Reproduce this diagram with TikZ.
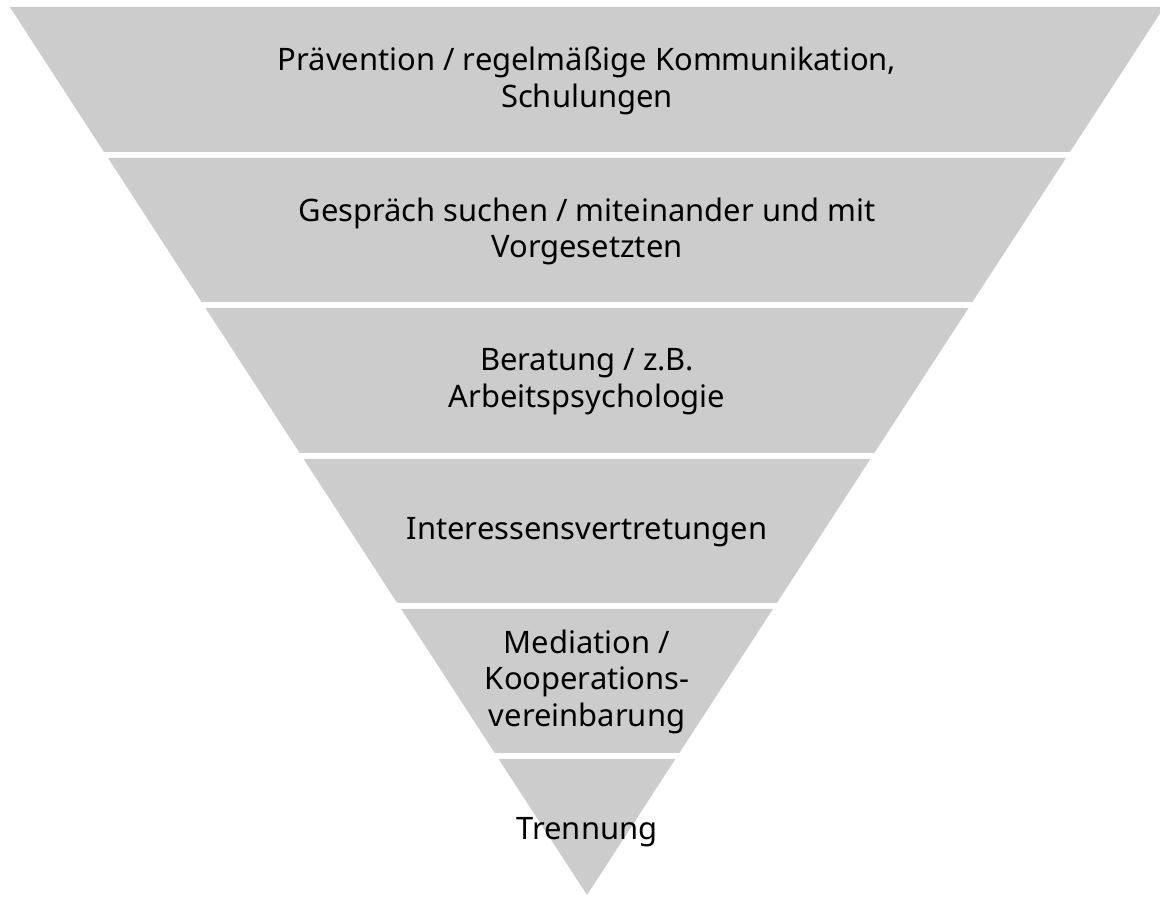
\documentclass[tikz,border=0pt]{standalone}
\usepackage{fontspec}
\setmainfont{Noto Sans}
\usepackage{tikz}
\usepackage{xcolor}

\tikzset{
  band/.style={fill=black!20},
  bandlabel/.style={align=center, inner sep=0pt, text=black,
    font=\fontsize{22}{25.8}\selectfont}
}

\begin{document}
\begin{tikzpicture}
\useasboundingbox (0,0) rectangle (29,22.425);

% bands, top to bottom
\fill[band] (0.245,22.25) -- (29.105,22.25) -- (26.749,18.625) -- (2.601,18.625) -- cycle;
\fill[band] (2.699,18.475) -- (26.651,18.475) -- (24.311,14.875) -- (5.039,14.875) -- cycle;
\fill[band] (5.136,14.725) -- (24.214,14.725) -- (21.858,11.1) -- (7.493,11.1) -- cycle;
\fill[band] (7.59,10.95) -- (21.76,10.95) -- (19.42,7.35) -- (9.93,7.35) -- cycle;
\fill[band] (10.028,7.2) -- (19.323,7.2) -- (16.983,3.6) -- (12.368,3.6) -- cycle;
\fill[band] (12.465,3.45) -- (16.885,3.45) -- (14.675,0.05) -- cycle;

\node[bandlabel] (praevention) at (14.675,20.4) {Prävention / regelmäßige Kommunikation,\\Schulungen};
\node[bandlabel] (gespraech) at (14.675,16.64) {Gespräch suchen / miteinander und mit\\Vorgesetzten};
\node[bandlabel] (beratung) at (14.675,12.88) {Beratung / z.B.\\Arbeitspsychologie};
\node[bandlabel] (interessen) at (14.675,9.13) {Interessensvertretungen};
\node[bandlabel] (mediation) at (14.675,5.38) {Mediation /\\Kooperations-\\vereinbarung};
\node[bandlabel] (trennung) at (14.675,1.62) {Trennung};

\end{tikzpicture}
\end{document}
